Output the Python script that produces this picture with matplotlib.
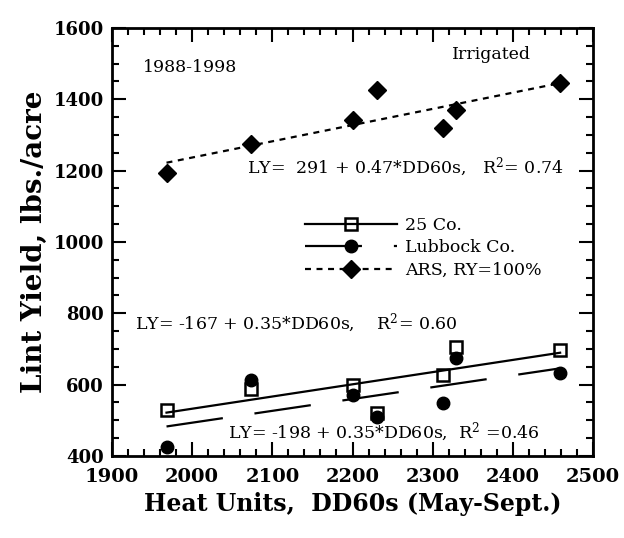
import numpy as np
import matplotlib
matplotlib.use("Agg")
import matplotlib.pyplot as plt
from matplotlib.ticker import MultipleLocator

# heat units (DD60s, May-Sept.) for 1988-1998
dd60 = [1968, 2074, 2200, 2230, 2313, 2329, 2459]
co25 = [530, 587, 599, 520, 627, 706, 697]
lubbock = [426, 613, 571, 510, 548, 674, 634]
ars = [1194, 1275, 1342, 1426, 1319, 1370, 1447]

labels = ["25 Co.", "Lubbock Co.", "ARS, RY=100%"]
eqs = ["LY= -167 + 0.35*DD60s,    R$^2$= 0.60",
       "LY= -198 + 0.35*DD60s,  R$^2$ =0.46",
       "LY=  291 + 0.47*DD60s,   R$^2$= 0.74"]

plt.rcParams["font.family"] = ["DejaVu Serif"]
plt.rcParams["lines.scale_dashes"] = False
plt.rcParams["mathtext.fontset"] = "dejavuserif"

fig = plt.figure(figsize=(6.24, 5.38), dpi=100)
ax = fig.add_axes([112 / 624, 1 - 456 / 538, 481 / 624, 428 / 538])

x = np.array(dd60)
xx = np.array([x.min(), x.max()])

def fit(y):
    p = np.polyfit(x, y, 1)
    return np.polyval(p, xx)

# regression lines
ax.plot(xx, fit(lubbock), color="black", lw=1.6, dashes=(41, 23))
ax.plot(xx, fit(co25), color="black", lw=1.6)
ax.plot(xx, fit(ars), color="black", lw=1.6, dashes=(4.3, 4))

# points (open squares on top)
ax.plot(x, lubbock, "o", color="black", ms=9)
ax.plot(x, co25, "s", color="black", mfc="none", ms=8.5, mew=1.8)
ax.plot(x, ars, "D", color="black", ms=9)

# legend handles
h1, = ax.plot([], [], color="black", lw=1.6, marker="s", mfc="none", ms=8.5, mew=1.8)
h2, = ax.plot([], [], color="black", lw=1.6, dashes=(41, 23), marker="o", ms=9)
h3, = ax.plot([], [], color="black", lw=1.6, dashes=(4.3, 4), marker="D", ms=9)
ax.legend([h1, h2, h3], labels, loc="center left", frameon=False,
          bbox_to_anchor=((305 - 112) / 481, 1 - (248 - 28) / 428),
          fontsize=12.5, handlelength=5.3, handletextpad=0.45,
          labelspacing=0.3, borderpad=0, borderaxespad=0, numpoints=1)

# text positions in pixels of the figure
for txt, px, py in [("1988-1998", 143, 68), ("Irrigated", 452, 55),
                    (eqs[2], 247, 167), (eqs[0], 135, 323), (eqs[1], 228, 432)]:
    ax.annotate(txt, xy=(px / 624, 1 - py / 538), xycoords="figure fraction",
                fontsize=12.5, va="center", ha="left")

ax.set_xlim(1900, 2500)
ax.set_ylim(400, 1600)
ax.xaxis.set_major_locator(MultipleLocator(100))
ax.xaxis.set_minor_locator(MultipleLocator(20))
ax.yaxis.set_major_locator(MultipleLocator(200))
ax.yaxis.set_minor_locator(MultipleLocator(50))
ax.tick_params(which="both", direction="in", top=True, right=True, width=1.5)
ax.tick_params(which="major", length=10)
ax.tick_params(which="minor", length=5)
ax.tick_params(axis="x", which="major", labelsize=14, pad=9)
ax.tick_params(axis="y", which="major", labelsize=13, pad=6)
for lab in ax.get_xticklabels() + ax.get_yticklabels():
    lab.set_fontweight("bold")
for s in ax.spines.values():
    s.set_linewidth(2)

ax.set_xlabel("Heat Units,  DD60s (May-Sept.)", fontsize=17, fontweight="bold",
              labelpad=4)
ax.set_ylabel("Lint Yield, lbs./acre", fontsize=20, fontweight="bold",
              labelpad=4)

fig.savefig("out.png", dpi=100)
